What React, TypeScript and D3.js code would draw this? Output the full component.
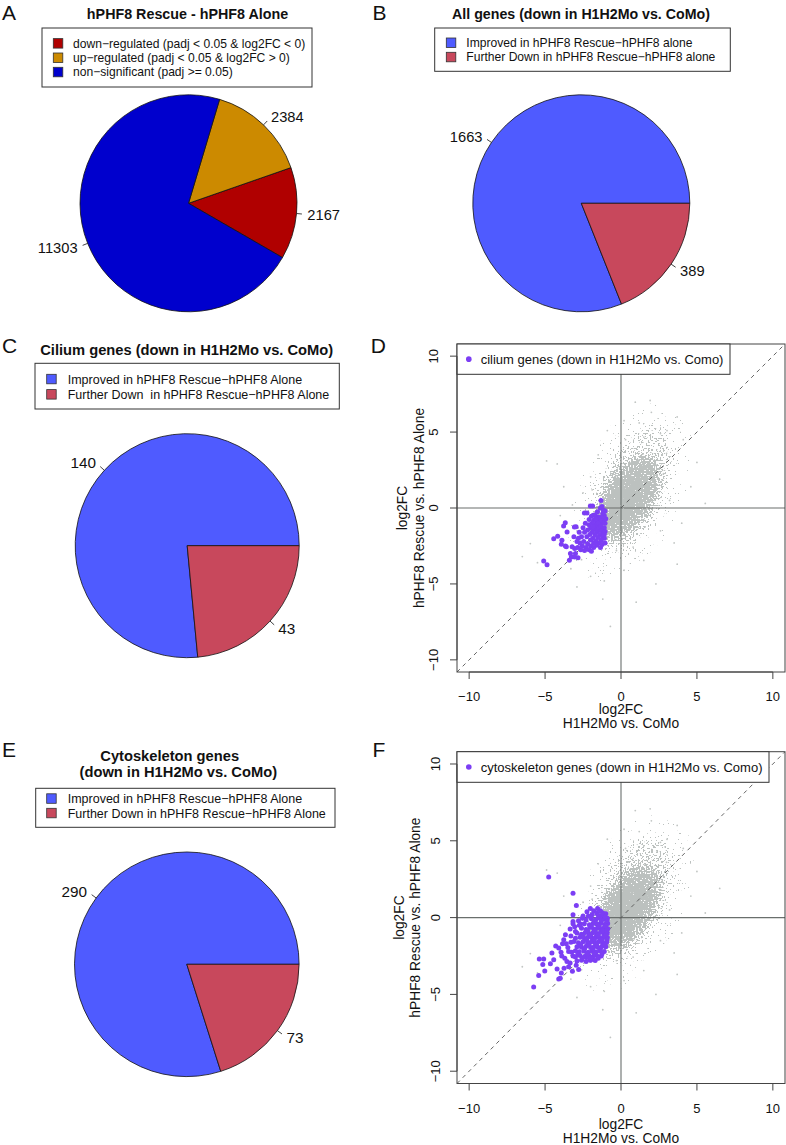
import React from 'react';
import * as d3 from 'd3';

const FONT = '"Liberation Sans", Arial, Helvetica, sans-serif';

// ---------------- Pie data ----------------
const aLabels = [
  'down−regulated (padj < 0.05 & log2FC < 0)',
  'up−regulated (padj < 0.05 & log2FC > 0)',
  'non−significant (padj >= 0.05)',
];
const aValues = [2167, 2384, 11303];
const aColors = ['#b00000', '#cc8a00', '#0000cd'];

const bLabels = ['Improved in hPHF8 Rescue−hPHF8 alone', 'Further Down in hPHF8 Rescue−hPHF8 alone'];
const bValues = [1663, 389];

const cLabels = ['Improved in hPHF8 Rescue−hPHF8 Alone', 'Further Down  in hPHF8 Rescue−hPHF8 Alone'];
const cValues = [140, 43];

const eLabels = ['Improved in hPHF8 Rescue−hPHF8 Alone', 'Further Down in hPHF8 Rescue−hPHF8 Alone'];
const eValues = [290, 73];

const pairColors = ['#4f5bff', '#c8485c'];

// ---------------- Scatter data ----------------
const axisTicks = [-10, -5, 0, 5, 10];
const axisDomain = [-10.8, 10.8];

// background gene cloud (all genes), density layers
const cloudCx = [0.6, 0.7, 0.5, 0.35];
const cloudCy = [1.0, 1.2, 0.7, 0.5];
const cloudMajor = [6.2, 4.4, 3.0, 1.8];
const cloudMinor = [3.4, 2.2, 1.6, 1.0];
const cloudAngle = [65, 65, 60, 58];
const cloudDensity = [0.1, 0.3, 0.7, 1.0];
// solid core of the cloud: [cx, cy, semiMajor, semiMinor, angle]
const cloudCore = [0.5, 0.7, 2.5, 1.2, 62];

// isolated grey genes far from the cloud core
const greyOutliers: [number, number][] = [
  [0.94, 6.97], [1.92, 7.08], [0.3, 4.5], [-0.9, 5.1], [-4.2, 2.9], [-4.9, 3.1], [3.03, 5.1], [3.7, 6.0],
  [4.1, 4.5], [5.55, 0.3], [4.6, 1.4], [3.5, -2.3], [3.7, -3.7], [2.6, -1.5], [-0.7, -7.8], [-1.1, -4.8],
  [-2.0, -4.5], [-2.9, -5.2], [-5.97, -2.34], [-5.5, -3.6], [-6.5, -3.2], [-2.9, -1.5], [-3.77, 1.4],
  [-2.0, 2.05], [0.2, 5.75], [1.5, 4.67], [2.15, 2.9], [2.8, 2.26], [0.8, -2.57], [0.2, -4.1], [1.5, -3.45],
  [-0.3, -2.8], [6.5, 1.9], [5.0, 3.0], [-3.3, -4.0], [-4.0, -0.5], [1.0, -6.2], [2.3, -5.0], [-1.5, 3.5],
  [-2.5, 1.0], [3.2, 0.5], [4.0, -1.0], [2.0, 6.3], [-1.2, -6.0], [-3.2, 0.2], [-2.6, -3.4], [3.0, 3.6],
  [-1.9, 1.2], [1.2, 5.6], [2.6, 4.9],
];

// cilium genes (down in H1H2Mo vs. CoMo)
const ciliumPoints: [number, number][] = [
  [-5.09, -3.49], [-4.87, -3.73], [-4.43, -2.02], [-4.17, -1.86], [-3.89, -2.12], [-3.93, -2.38], [-3.66, -2.5],
  [-3.67, -0.97], [-3.78, -1.19], [-3.4, -3.44], [-3.27, -3.22], [-2.83, -3.27], [-3.0, -3.0], [-3.6, -2.56],
  [-3.05, -2.67], [-3.33, -3.0], [-3.05, -3.22], [-2.41, -0.33], [-2.02, 0.13], [-1.87, 0.13], [-1.32, 0.5],
  [-1.36, 0.0], [-2.24, -0.33], [-1.82, -0.48], [-2.96, -1.24], [-3.07, -1.25], [-3.55, -1.58], [-3.22, -2.56],
  [-2.9, -2.2], [-3.1, -1.9],
  [-1.05, -0.2], [-1.1, -0.5], [-1.2, -0.35], [-1.3, -0.6], [-1.15, -0.8], [-1.05, -1.0], [-1.25, -1.0],
  [-1.4, -0.85], [-1.5, -0.6], [-1.6, -0.9], [-1.45, -1.15], [-1.3, -1.3], [-1.1, -1.3], [-1.05, -1.55],
  [-1.2, -1.6], [-1.4, -1.45], [-1.55, -1.3], [-1.7, -1.1], [-1.8, -0.8], [-1.9, -1.0], [-1.75, -1.4],
  [-1.6, -1.6], [-1.4, -1.75], [-1.2, -1.85], [-1.1, -2.0], [-1.3, -2.1], [-1.5, -1.95], [-1.7, -1.8],
  [-1.9, -1.6], [-2.0, -1.3], [-2.1, -1.1], [-2.2, -1.45], [-2.05, -1.75], [-1.85, -2.0], [-1.65, -2.15],
  [-1.45, -2.3], [-1.25, -2.4], [-1.6, -2.45], [-1.8, -2.3], [-2.0, -2.1], [-2.25, -1.9], [-2.4, -1.6],
  [-2.5, -1.3], [-2.35, -1.0], [-2.6, -1.9], [-2.45, -2.2], [-2.2, -2.35], [-2.0, -2.5], [-1.8, -2.6],
  [-2.3, -2.6], [-2.55, -2.5], [-2.7, -2.3], [-2.8, -2.0], [-2.75, -1.6], [-2.65, -2.75], [-2.4, -2.8],
  [-2.1, -2.75], [-1.95, -2.85], [-2.85, -2.6], [-1.15, -0.15], [-1.25, 0.1], [-1.55, -0.25], [-1.7, -0.45],
  [-1.95, -0.55], [-2.1, -0.75], [-1.35, -2.6], [-1.05, -2.3], [-1.1, -1.75], [-1.0, -0.7], [-1.65, -0.7],
  [-1.85, -1.25], [-1.5, -1.0], [-1.35, -1.2],
];

// cytoskeleton genes (down in H1H2Mo vs. CoMo)
const cytoPoints: [number, number][] = [
  [-4.76, 2.65], [-3.16, 1.58], [-2.94, 0.79], [-3.16, 0.19], [-2.24, 0.38], [-2.02, 0.6], [-1.54, 0.6],
  [-1.35, 0.45], [-3.16, -0.26], [-3.16, -0.4], [-2.67, -0.41], [-3.66, -1.11], [-3.77, -1.44], [-4.1, -1.98],
  [-4.3, -1.85], [-3.95, -2.25], [-4.43, -2.74], [-5.09, -2.7], [-5.38, -2.7], [-5.15, -3.06], [-5.02, -3.47],
  [-5.42, -3.77], [-5.75, -4.51], [-4.21, -3.34], [-3.93, -3.6], [-4.1, -3.99], [-4.0, -3.95], [-3.56, -2.85],
  [-3.35, -2.95], [-2.79, -3.38], [-3.16, -2.5], [-3.9, -2.5], [-3.45, -2.2], [-2.02, -2.78], [-2.25, -2.6],
  [-3.6, -1.7], [-3.3, -1.6], [-3.0, -0.9], [-2.8, -0.2], [-2.5, 0.1], [-1.8, 0.45], [-1.2, 0.3],
  [-3.3, -1.2], [-3.5, -1.95], [-3.25, -2.25], [-3.7, -2.65], [-3.45, -3.2], [-3.2, -3.5], [-2.95, -3.1],
  [-3.05, -0.6], [-3.35, -0.75], [-3.85, -1.7], [-4.55, -2.3], [-4.65, -3.0], [-3.75, -3.3],
  [-1.0, 0.25], [-1.25, 0.15], [-1.6, 0.3], [-1.9, 0.2], [-2.15, 0.1],
  [-0.9, -0.05], [-1.12, -0.1], [-1.4, -0.02], [-1.65, -0.12], [-1.95, -0.08], [-2.3, -0.15], [-2.55, -0.05],
  [-0.88, -0.38], [-1.08, -0.45], [-1.33, -0.35], [-1.58, -0.42], [-1.83, -0.36], [-2.08, -0.47], [-2.42, -0.4], [-2.75, -0.5],
  [-0.87, -0.72], [-1.1, -0.66], [-1.3, -0.75], [-1.55, -0.68], [-1.8, -0.74], [-2.05, -0.65], [-2.3, -0.78], [-2.6, -0.7],
  [-0.9, -1.0], [-1.12, -1.05], [-1.35, -0.96], [-1.6, -1.04], [-1.85, -0.98], [-2.1, -1.06], [-2.35, -0.97], [-2.6, -1.08], [-2.9, -1.0],
  [-0.9, -1.3], [-1.15, -1.25], [-1.4, -1.34], [-1.65, -1.27], [-1.9, -1.33], [-2.15, -1.25], [-2.4, -1.36], [-2.7, -1.28], [-3.0, -1.35],
  [-0.95, -1.6], [-1.2, -1.65], [-1.45, -1.56], [-1.7, -1.63], [-1.95, -1.58], [-2.2, -1.66], [-2.5, -1.57], [-2.8, -1.64], [-3.1, -1.55],
  [-1.0, -1.9], [-1.25, -1.86], [-1.5, -1.94], [-1.75, -1.88], [-2.0, -1.95], [-2.3, -1.87], [-2.6, -1.93], [-2.9, -1.9],
  [-1.1, -2.2], [-1.4, -2.16], [-1.65, -2.24], [-1.9, -2.18], [-2.15, -2.25], [-2.45, -2.17], [-2.75, -2.23], [-3.0, -2.15],
  [-1.3, -2.5], [-1.6, -2.46], [-1.85, -2.55], [-2.1, -2.48], [-2.4, -2.54], [-2.7, -2.47], [-3.0, -2.56],
  [-1.7, -2.8], [-2.0, -2.76], [-2.3, -2.85], [-2.6, -2.78], [-2.9, -2.82],
  [-1.0, -0.55], [-1.2, -0.85], [-1.45, -0.55], [-1.7, -0.88], [-1.95, -0.55], [-2.2, -0.88], [-1.0, -1.15],
  [-1.25, -1.45], [-1.5, -1.15], [-1.75, -1.45], [-2.0, -1.15], [-2.25, -1.45], [-2.5, -1.2], [-1.05, -1.75],
  [-1.35, -2.0], [-1.6, -1.78], [-1.85, -2.05], [-2.1, -1.78], [-2.4, -2.05], [-2.65, -1.78], [-1.25, -2.35],
  [-1.5, -2.65], [-1.75, -2.35], [-2.0, -2.62], [-2.25, -2.35], [-2.55, -2.65], [-2.85, -2.4], [-0.92, -0.2],
  [-0.95, -0.85], [-0.93, -1.45], [-1.05, 0.05], [-1.5, 0.15], [-1.3, -0.2], [-1.75, -0.25], [-2.0, 0.05],
];

const PURPLE = '#7c3ef4';
const GREY = '#bcc1bf';
const fmt = (v: number) => (v < 0 ? '−' + Math.abs(v) : String(v));

// ---------------- Components ----------------
type PieProps = { cx: number; cy: number; r: number; values: number[]; colors: string[]; startDeg: number; fs: number };

function Pie({ cx, cy, r, values, colors, startDeg, fs }: PieProps) {
  const s = Math.PI / 2 - (startDeg * Math.PI) / 180;
  const arcs = d3.pie<number>().sort(null).value((d) => d).startAngle(s).endAngle(s - 2 * Math.PI)(values);
  const arc = d3.arc<any>().innerRadius(0).outerRadius(r);
  return (
    <g transform={`translate(${cx},${cy})`}>
      {arcs.map((a, i) => (
        <path key={'p' + i} d={arc(a) || ''} fill={colors[i]} stroke="#111" strokeWidth={0.8} />
      ))}
      {arcs.map((a, i) => {
        const m = (a.startAngle + a.endAngle) / 2;
        const sx = Math.sin(m);
        const sy = -Math.cos(m);
        return (
          <g key={'l' + i}>
            <line x1={sx * r} y1={sy * r} x2={sx * r * 1.05} y2={sy * r * 1.05} stroke="#111" strokeWidth={0.8} />
            <text x={sx * r * 1.1} y={sy * r * 1.1} dy="0.36em" textAnchor={sx < 0 ? 'end' : 'start'} fontSize={fs}>
              {values[i]}
            </text>
          </g>
        );
      })}
    </g>
  );
}

type LegendProps = { x0: number; y0: number; x1: number; y1: number; rows: number[]; sq: number; tx: number; labels: string[]; colors: string[]; fs: number };

function PieLegend({ x0, y0, x1, y1, rows, sq, tx, labels, colors, fs }: LegendProps) {
  return (
    <g>
      <rect x={x0} y={y0} width={x1 - x0} height={y1 - y0} fill="#fff" stroke="#333" strokeWidth={1} />
      {labels.map((l, i) => (
        <g key={i}>
          <rect x={sq} y={rows[i] - 4.7} width={9.5} height={9.5} fill={colors[i]} stroke="#333" strokeWidth={0.8} />
          <text x={tx} y={rows[i]} dy="0.36em" fontSize={fs} style={{ whiteSpace: 'pre' }}>
            {l}
          </text>
        </g>
      ))}
    </g>
  );
}

type ScatterCfg = {
  id: string; left: number; right: number; top: number; bottom: number;
  points: [number, number][]; legendText: string; legendRight: number; legendBottom: number;
  xTickBase: number; xTitle1: number; xTitle2: number;
  yTickBase: number; yTitle2: number; yTitle1: number;
};

function Scatter(c: ScatterCfg) {
  const x = d3.scaleLinear().domain(axisDomain).range([c.left, c.right]);
  const y = d3.scaleLinear().domain(axisDomain).range([c.bottom, c.top]);
  const kx = x(1) - x(0);
  const ky = y(0) - y(1);
  const w = c.right - c.left;
  const h = c.bottom - c.top;
  const midY = (c.top + c.bottom) / 2;
  const midX = (c.left + c.right) / 2;
  const legMid = (c.top + c.legendBottom) / 2;
  return (
    <g>
      <defs>
        <clipPath id={`clip-${c.id}`}>
          <rect x={c.left} y={c.top} width={w} height={h} />
        </clipPath>
        <filter id={`soft-${c.id}`} filterUnits="userSpaceOnUse" x={c.left} y={c.top} width={w} height={h}>
          <feGaussianBlur stdDeviation="3" />
        </filter>
        <filter id={`grain-${c.id}`} filterUnits="userSpaceOnUse" x={c.left} y={c.top} width={w} height={h} colorInterpolationFilters="sRGB">
          <feGaussianBlur in="SourceGraphic" stdDeviation="5" result="dens" />
          <feTurbulence type="fractalNoise" baseFrequency="0.6" numOctaves={1} seed={7} result="noise" />
          <feColorMatrix in="noise" type="matrix" values="0 0 0 0 0  0 0 0 0 0  0 0 0 0 0  0 0 0 2 -0.5" result="u" />
          <feComposite in="dens" in2="u" operator="arithmetic" k1={0} k2={1} k3={-1} k4={0.48} result="diff" />
          <feComponentTransfer in="diff" result="mask">
            <feFuncA type="linear" slope={40} intercept={-20} />
          </feComponentTransfer>
          <feFlood floodColor={GREY} result="col" />
          <feComposite in="col" in2="mask" operator="in" />
        </filter>
      </defs>
      <g clipPath={`url(#clip-${c.id})`}>
        <g filter={`url(#grain-${c.id})`}>
          {cloudCx.map((cx, i) => (
            <ellipse
              key={i}
              transform={`translate(${x(cx)},${y(cloudCy[i])}) rotate(${-cloudAngle[i]})`}
              rx={cloudMajor[i] * kx}
              ry={cloudMinor[i] * ky}
              fill="#000"
              fillOpacity={cloudDensity[i]}
            />
          ))}
        </g>
        <ellipse
          filter={`url(#soft-${c.id})`}
          transform={`translate(${x(cloudCore[0])},${y(cloudCore[1])}) rotate(${-cloudCore[4]})`}
          rx={cloudCore[2] * kx}
          ry={cloudCore[3] * ky}
          fill={GREY}
        />
        {greyOutliers.map((p, i) => (
          <circle key={'g' + i} cx={x(p[0])} cy={y(p[1])} r={0.9} fill="#c2c6c4" />
        ))}
        <line x1={c.left} x2={c.right} y1={y(0)} y2={y(0)} stroke="#6a6f6d" strokeWidth={1.1} />
        <line x1={x(0)} x2={x(0)} y1={c.top} y2={c.bottom} stroke="#6a6f6d" strokeWidth={1.1} />
        <line x1={x(axisDomain[0])} y1={y(axisDomain[0])} x2={x(axisDomain[1])} y2={y(axisDomain[1])} stroke="#555" strokeWidth={0.9} strokeDasharray="4 4" />
        {c.points.map((p, i) => (
          <circle key={'p' + i} cx={x(p[0])} cy={y(p[1])} r={2.5} fill={PURPLE} />
        ))}
      </g>
      <rect x={c.left} y={c.top} width={w} height={h} fill="none" stroke="#444" strokeWidth={1} />
      {/* legend */}
      <rect x={c.left} y={c.top} width={c.legendRight - c.left} height={c.legendBottom - c.top} fill="#fff" stroke="#333" strokeWidth={1} />
      <circle cx={c.left + 11.8} cy={legMid} r={2.8} fill={PURPLE} />
      <text x={c.left + 23.7} y={legMid} dy="0.36em" fontSize={13}>
        {c.legendText}
      </text>
      {/* x axis */}
      <line x1={x(-10)} x2={x(10)} y1={c.bottom} y2={c.bottom} stroke="#444" />
      {axisTicks.map((t) => (
        <g key={'xt' + t}>
          <line x1={x(t)} x2={x(t)} y1={c.bottom} y2={c.bottom + 7} stroke="#444" />
          <text x={x(t)} y={c.xTickBase} textAnchor="middle" fontSize={13}>
            {fmt(t)}
          </text>
        </g>
      ))}
      <text x={midX} y={c.xTitle1} textAnchor="middle" fontSize={13.8}>log2FC</text>
      <text x={midX} y={c.xTitle2} textAnchor="middle" fontSize={13.8}>H1H2Mo vs. CoMo</text>
      {/* y axis */}
      <line x1={c.left} x2={c.left} y1={y(-10)} y2={y(10)} stroke="#444" />
      {axisTicks.map((t) => (
        <g key={'yt' + t}>
          <line x1={c.left - 7} x2={c.left} y1={y(t)} y2={y(t)} stroke="#444" />
          <text transform={`translate(${c.yTickBase},${y(t)}) rotate(-90)`} textAnchor="middle" fontSize={13}>
            {fmt(t)}
          </text>
        </g>
      ))}
      <text transform={`translate(${c.yTitle1},${midY}) rotate(-90)`} textAnchor="middle" fontSize={13.8}>log2FC</text>
      <text transform={`translate(${c.yTitle2},${midY}) rotate(-90)`} textAnchor="middle" fontSize={13.8}>hPHF8 Rescue vs. hPHF8 Alone</text>
    </g>
  );
}

function Letter({ x, y, t }: { x: number; y: number; t: string }) {
  return (
    <text x={x} y={y} fontSize={21}>
      {t}
    </text>
  );
}

export default function App() {
  return (
    <svg
      width={786}
      height={1145}
      viewBox="0 0 786 1145"
      style={{ position: 'absolute', left: 0, top: 0, background: '#fff' }}
      fontFamily={FONT}
      fill="#111"
    >
      <rect x={0} y={0} width={786} height={1145} fill="#fff" />
      {/* panel letters */}
      <Letter x={2} y={19.5} t="A" />
      <Letter x={372.5} y={19.5} t="B" />
      <Letter x={2} y={352.7} t="C" />
      <Letter x={370.7} y={352.7} t="D" />
      <Letter x={2} y={756.7} t="E" />
      <Letter x={372.5} y={756.7} t="F" />

      {/* Panel A */}
      <text x={187.5} y={18.5} textAnchor="middle" fontSize={14.3} fontWeight="bold">hPHF8 Rescue - hPHF8 Alone</text>
      <PieLegend x0={42} y0={28} x1={312} y1={87} rows={[43.3, 57.7, 72]} sq={53.3} tx={73} labels={aLabels} colors={aColors} fs={12.1} />
      <Pie cx={188.5} cy={203.3} r={108.5} values={aValues} colors={aColors} startDeg={-30} fs={14.7} />

      {/* Panel B */}
      <text x={581} y={18.7} textAnchor="middle" fontSize={14.2} fontWeight="bold">All genes (down in H1H2Mo vs. CoMo)</text>
      <PieLegend x0={434.7} y0={28} x1={730.3} y1={71.3} rows={[42.7, 57]} sq={446.3} tx={466.3} labels={bLabels} colors={pairColors} fs={12.1} />
      <Pie cx={581.3} cy={203.3} r={108.5} values={bValues} colors={pairColors} startDeg={0} fs={14.7} />

      {/* Panel C */}
      <text x={186.7} y={354.5} textAnchor="middle" fontSize={14.7} fontWeight="bold">Cilium genes (down in H1H2Mo vs. CoMo)</text>
      <PieLegend x0={35} y0={363.3} x1={339.3} y1={409} rows={[379, 394.3]} sq={46.7} tx={67.7} labels={cLabels} colors={pairColors} fs={12.5} />
      <Pie cx={187.2} cy={545.7} r={112} values={cValues} colors={pairColors} startDeg={0} fs={15.3} />

      {/* Panel E */}
      <text x={169.7} y={761} textAnchor="middle" fontSize={14.7} fontWeight="bold">Cytoskeleton genes</text>
      <text x={178.3} y={776.5} textAnchor="middle" fontSize={14.7} fontWeight="bold">(down in H1H2Mo vs. CoMo)</text>
      <PieLegend x0={35.7} y0={788.3} x1={335} y1={827.3} rows={[798.5, 813]} sq={46.7} tx={67.7} labels={eLabels} colors={pairColors} fs={12.5} />
      <Pie cx={186.8} cy={964.3} r={112.3} values={eValues} colors={pairColors} startDeg={0} fs={15.3} />

      {/* Panel D */}
      <Scatter
        id="D" left={457} right={785} top={344} bottom={672}
        points={ciliumPoints} legendText="cilium genes (down in H1H2Mo vs. Como)" legendRight={730} legendBottom={374.3}
        xTickBase={701} xTitle1={714} xTitle2={727.8}
        yTickBase={438.3} yTitle2={423.5} yTitle1={407}
      />

      {/* Panel F */}
      <Scatter
        id="F" left={457} right={785} top={751.7} bottom={1083.5}
        points={cytoPoints} legendText="cytoskeleton genes (down in H1H2Mo vs. Como)" legendRight={769} legendBottom={782.3}
        xTickBase={1112.7} xTitle1={1129.3} xTitle2={1143.3}
        yTickBase={440} yTitle2={420} yTitle1={404}
      />
    </svg>
  );
}
